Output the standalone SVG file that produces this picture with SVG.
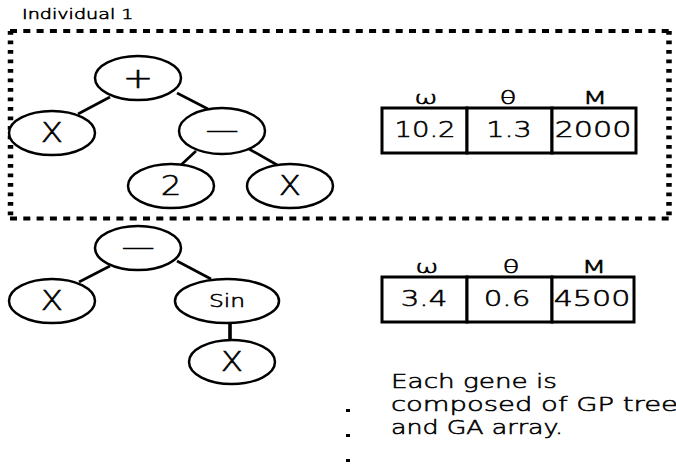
<svg xmlns="http://www.w3.org/2000/svg" width="676" height="470" viewBox="0 0 676 470">
<style>
  .n ellipse{fill:#fff;stroke:#000;stroke-width:2.5}
  .t{font-family:"DejaVu Sans",sans-serif;fill:#000;font-weight:200;stroke:#000;stroke-width:0.55}
  .edges line{stroke:#000;stroke-width:2.6}
  .cell{fill:#fff;stroke:#000;stroke-width:3}
  .dh{stroke:#000;stroke-width:4;stroke-dasharray:7 6.3;fill:none}
  .dv{stroke:#000;stroke-width:5.5;stroke-dasharray:3.8 5.7;fill:none}
</style>
<rect width="676" height="470" fill="#fff"/>
<text class="t" font-size="13.5" transform="translate(22,19) scale(1.42,1)">Individual 1</text>
<g id="frame">
  <line class="dh" x1="10" y1="31" x2="669" y2="31"/>
  <line class="dh" x1="10" y1="218.5" x2="669" y2="218.5"/>
  <line class="dv" x1="10.5" y1="31" x2="10.5" y2="218"/>
  <line class="dv" x1="669" y1="31" x2="669" y2="218"/>
</g>
<g class="edges" id="connectors">
  <line x1="110" y1="97" x2="78" y2="114"/>
  <line x1="177" y1="93" x2="208" y2="109"/>
  <line x1="196" y1="151" x2="181" y2="165"/>
  <line x1="249" y1="149" x2="279" y2="166"/>
  <line x1="110" y1="266" x2="79" y2="282"/>
  <line x1="177" y1="261" x2="211" y2="279"/>
  <line x1="230" y1="322" x2="230" y2="341" style="stroke-width:3.6"/>
</g>
<g class="n" id="n1"><ellipse cx="138" cy="78" rx="43" ry="22"/><text class="t" font-size="28" text-anchor="middle" transform="translate(138,88) scale(1.3,1)">+</text></g>
<g class="n" id="n2"><ellipse cx="52" cy="133" rx="43" ry="22"/><text class="t" font-size="26" text-anchor="middle" transform="translate(52,142) scale(1.25,1)">X</text></g>
<g class="n" id="n3"><ellipse cx="222" cy="131" rx="43" ry="23"/><text class="t" font-size="27" text-anchor="middle" transform="translate(222,140) scale(1.75,1)">−</text></g>
<g class="n" id="n4"><ellipse cx="171" cy="186" rx="43" ry="22"/><text class="t" font-size="26" text-anchor="middle" transform="translate(171,195) scale(1.25,1)">2</text></g>
<g class="n" id="n5"><ellipse cx="290" cy="186" rx="43" ry="22"/><text class="t" font-size="26" text-anchor="middle" transform="translate(290,195) scale(1.25,1)">X</text></g>
<g id="table1">
  <rect class="cell" x="382" y="108" width="85" height="45"/>
  <rect class="cell" x="467" y="108" width="85" height="45"/>
  <rect class="cell" x="552" y="108" width="84" height="45"/>
  <text class="t" font-size="17" text-anchor="middle" transform="translate(426,104) scale(1.65,1)">ω</text>
  <text class="t" font-size="17" text-anchor="middle" transform="translate(508,104) scale(1.6,1)">θ</text>
  <text class="t" font-size="17" text-anchor="middle" transform="translate(595,104) scale(1.7,1)">M</text>
  <text class="t" font-size="22" text-anchor="middle" transform="translate(425,137) scale(1.25,1)">10.2</text>
  <text class="t" font-size="22" text-anchor="middle" transform="translate(509,137) scale(1.3,1)">1.3</text>
  <text class="t" font-size="22" text-anchor="middle" transform="translate(593,137) scale(1.37,1)">2000</text>
</g>
<g class="n" id="n6"><ellipse cx="138" cy="248" rx="43" ry="22"/><text class="t" font-size="27" text-anchor="middle" transform="translate(138,257) scale(1.75,1)">−</text></g>
<g class="n" id="n7"><ellipse cx="52" cy="301" rx="43" ry="22"/><text class="t" font-size="26" text-anchor="middle" transform="translate(52,310) scale(1.25,1)">X</text></g>
<g class="n" id="n8"><ellipse cx="227" cy="301" rx="52" ry="22"/><text class="t" font-size="18" text-anchor="middle" transform="translate(227,307) scale(1.3,1)">Sin</text></g>
<g class="n" id="n9"><ellipse cx="232" cy="362" rx="43" ry="22"/><text class="t" font-size="26" text-anchor="middle" transform="translate(232,371) scale(1.25,1)">X</text></g>
<g id="table2">
  <rect class="cell" x="382" y="277" width="85" height="45"/>
  <rect class="cell" x="467" y="277" width="85" height="45"/>
  <rect class="cell" x="552" y="277" width="82" height="45"/>
  <text class="t" font-size="17" text-anchor="middle" transform="translate(427,273) scale(1.65,1)">ω</text>
  <text class="t" font-size="17" text-anchor="middle" transform="translate(511,273) scale(1.6,1)">θ</text>
  <text class="t" font-size="17" text-anchor="middle" transform="translate(594,273) scale(1.7,1)">M</text>
  <text class="t" font-size="22" text-anchor="middle" transform="translate(424,306) scale(1.33,1)">3.4</text>
  <text class="t" font-size="22" text-anchor="middle" transform="translate(507,306) scale(1.33,1)">0.6</text>
  <text class="t" font-size="22" text-anchor="middle" transform="translate(592,306) scale(1.37,1)">4500</text>
</g>
<g id="note" class="t" font-size="20">
  <text x="391" y="388" textLength="166" lengthAdjust="spacingAndGlyphs">Each gene is</text>
  <text x="391" y="411" textLength="287" lengthAdjust="spacingAndGlyphs">composed of GP tree</text>
  <text x="391" y="434" textLength="172" lengthAdjust="spacingAndGlyphs">and GA array.</text>
</g>
<g id="dots" fill="#000">
  <rect x="346" y="409" width="4" height="3"/>
  <rect x="346" y="434" width="4" height="3"/>
  <rect x="346" y="459" width="4" height="3"/>
</g>
</svg>
